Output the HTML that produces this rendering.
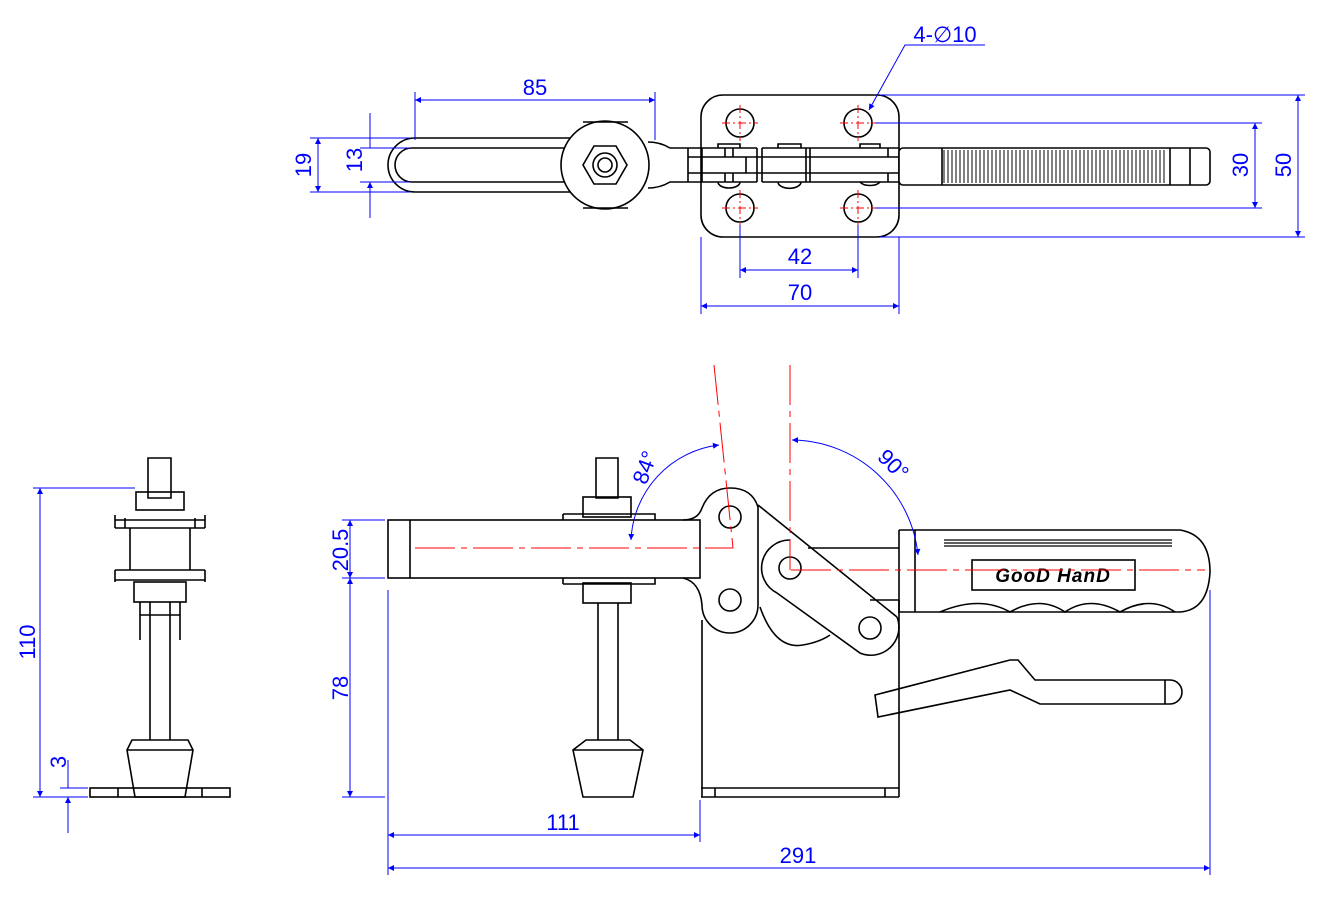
<!DOCTYPE html>
<html><head><meta charset="utf-8"><style>body{margin:0;background:#fff}svg{display:block}</style></head><body>
<svg width="1324" height="900" viewBox="0 0 1324 900" xmlns="http://www.w3.org/2000/svg">
<defs>
<marker id="a" viewBox="0 0 10 10" refX="10" refY="5" markerWidth="10" markerHeight="6" orient="auto-start-reverse" markerUnits="userSpaceOnUse"><path d="M0,0L10,5L0,10z" fill="#00f"/></marker>
</defs>
<g fill="none" stroke="#000" stroke-width="1.6">
<!-- TOP VIEW -->
<path d="M415,138 H600 M415,192 H600 M415,138 A27,27 0 0 0 415,192"/>
<path d="M412,148 H585 M412,182 H585 M412,148 A17,17 0 0 0 412,182"/>
<circle cx="605" cy="165" r="44" fill="#fff"/>
<path d="M583,122 H628 M583,208 H628"/>
<polygon points="627,165 616,184 594,184 583,165 594,146 616,146" fill="#fff"/>
<circle cx="605" cy="165" r="12"/><circle cx="605" cy="165" r="7"/>
<path d="M648,142 Q660,142 670,148 L688,148 M648,188 Q660,188 670,182 L688,182"/>
<rect x="701" y="95" width="198" height="142" rx="22" fill="#fff"/>
<path d="M718,148 v-4 h22 v4 M778,148 v-4 h23 v4 M860,148 v-4 h20 v4"/>
<path d="M718,182 A11,6 0 0 0 740,182 M778,182 A11,6 0 0 0 801,182 M860,182 A11,6 0 0 0 880,182"/>
<path d="M688,148 H757 M762,148 H899 M688,157 H899 M688,173 H899 M688,182 H757 M762,182 H899"/>
<path d="M688,148 V182 M702,148 V182 M725,148 V157 M725,173 V182 M733,148 V157 M733,173 V182 M757,148 V182 M762,148 V182 M806,148 V182 M810,148 V182 M888,148 V157 M888,173 V182 M746,157 V173"/>
<circle cx="740" cy="123" r="14"/><circle cx="858" cy="123" r="14"/>
<circle cx="740" cy="208" r="14"/><circle cx="858" cy="208" r="14"/>
<rect x="899" y="148" width="311" height="37" rx="4" fill="#fff"/>
<path d="M942,148 V185 M1170,148 V185 M1190,148 V185"/>
</g>
<g stroke="#000" stroke-width="1">
<path d="M944,150 v33 M948,150 v33 M952,150 v33 M956,150 v33 M960,150 v33 M964,150 v33 M968,150 v33 M972,150 v33 M976,150 v33 M980,150 v33 M984,150 v33 M988,150 v33 M992,150 v33 M996,150 v33 M1000,150 v33 M1004,150 v33 M1008,150 v33 M1012,150 v33 M1016,150 v33 M1020,150 v33 M1024,150 v33 M1028,150 v33 M1032,150 v33 M1036,150 v33 M1040,150 v33 M1044,150 v33 M1048,150 v33 M1052,150 v33 M1056,150 v33 M1060,150 v33 M1064,150 v33 M1068,150 v33 M1072,150 v33 M1076,150 v33 M1080,150 v33 M1084,150 v33 M1088,150 v33 M1092,150 v33 M1096,150 v33 M1100,150 v33 M1104,150 v33 M1108,150 v33 M1112,150 v33 M1116,150 v33 M1120,150 v33 M1124,150 v33 M1128,150 v33 M1132,150 v33 M1136,150 v33 M1140,150 v33 M1144,150 v33 M1148,150 v33 M1152,150 v33 M1156,150 v33 M1160,150 v33 M1164,150 v33"/>
<path d="M944,540 h228 M944,543 h228 M944,546 h228" stroke-width="1.2"/>
</g>
<g stroke="#f00" stroke-width="1" stroke-dasharray="8,3,2,3">
<path d="M722,123 h36 M740,105 v36 M840,123 h36 M858,105 v36 M722,208 h36 M740,190 v36 M840,208 h36 M858,190 v36"/>
</g>
<!-- SIDE VIEW -->
<g fill="none" stroke="#000" stroke-width="1.6">
<path d="M702,797 V620 M899,600 V797 M701,788 H899 M701,797 H899 M715,788 V797 M885,788 V797"/>
<rect x="388" y="520" width="312" height="58" fill="#fff"/>
<path d="M410,520 V578 M563,514 H655 V520 M563,514 V520 M563,584 H655 V578 M563,584 V578"/>
<!-- ear -->
<path d="M683,520 Q698,520 702,508 Q710,488 730,488 Q752,488 758,507 V605 A28,28 0 0 1 702,605 Q700,582 683,578"/>
<circle cx="730" cy="517" r="11"/><circle cx="730" cy="600" r="11"/>
<!-- link -->
<path d="M758,505 L897,617"/>
<path d="M897,617 A28,28 0 0 1 860,653 L777,593 A28,28 0 0 1 790,540"/>
<path d="M760,607 Q775,650 803,645 Q820,642 830,635"/>
<path d="M808,548 H899 M870,600 H899"/>
<circle cx="790" cy="568" r="11"/><circle cx="870" cy="628" r="11"/>
<path d="M899,530 H1180 Q1210,535 1210,572 Q1208,610 1180,612 H899 V530 M915,530 V612"/>
<path d="M940,612 Q980,595 1010,612 Q1040,595 1065,612 Q1090,595 1120,612 Q1150,595 1175,612"/>
<rect x="972" y="560" width="163" height="30" fill="#fff"/>
<path d="M875,695 L1010,660 H1018 L1035,680 H1170 A12,12 0 0 1 1170,704 H1040 L1010,690 L878,717 Z"/>
<path d="M1165,680 V704"/>
<!-- spindle side -->
<path d="M596,458 h22 v40 h-22 z"/>
<rect x="583" y="497" width="48" height="20"/>
<rect x="583" y="583" width="48" height="20"/>
<path d="M598,603 V740 M618,603 V740"/>
<path d="M586,740 H630 L643,750 L633,797 H583 L573,750 Z M573,750 H643"/>
<!-- FRONT VIEW -->
<path d="M148,458 h23 v40 h-23 z"/>
<rect x="136" y="492" width="48" height="18"/>
<path d="M115,520 H205 M115,528 H205 M115,515 V528 M205,515 V528 M125,518 V528 M195,518 V528"/>
<path d="M130,528 V570 M190,528 V570"/>
<path d="M115,570 H205 M115,580 H205 M115,570 V582 M205,570 V582"/>
<rect x="134" y="582" width="52" height="20"/>
<path d="M140,602 V640 M180,602 V640 M140,615 h40"/>
<path d="M150,602 V740 M170,602 V740"/>
<path d="M132,740 H188 L193,750 L185,797 H135 L127,750 Z M127,750 H193"/>
<rect x="90" y="788" width="140" height="9"/>
<path d="M118,788 V797 M202,788 V797"/>
</g>
<text x="1053" y="582" font-family="Liberation Sans, sans-serif" font-size="19" font-weight="bold" font-style="italic" text-anchor="middle" letter-spacing="1">GooD HanD</text>
<g stroke="#f00" stroke-width="1" fill="none" stroke-dasharray="40,6,6,6">
<path d="M415,548 H733 M791,570 H1205 M790,365 V570 M714,365 L733,548"/>
</g>
<!-- DIMENSIONS -->
<g stroke="#00f" stroke-width="1" fill="none">
<path d="M415,92 V140 M655,92 V140"/>
<path d="M415,100 H655" marker-start="url(#a)" marker-end="url(#a)"/>
<path d="M310,138 H410 M310,192 H410 M360,148 H410 M360,182 H410"/>
<path d="M318,138 V192" marker-start="url(#a)" marker-end="url(#a)"/>
<path d="M370,113 V148 M370,182 V218" />
<path d="M370,130 V148 M370,200 V182" marker-end="url(#a)"/>
<path d="M880,95 H1305 M880,237 H1305 M875,123 H1262 M875,208 H1262"/>
<path d="M1255,123 V208" marker-start="url(#a)" marker-end="url(#a)"/>
<path d="M1298,95 V237" marker-start="url(#a)" marker-end="url(#a)"/>
<path d="M740,225 V278 M858,225 V278 M701,237 V314 M899,237 V314"/>
<path d="M740,270 H858" marker-start="url(#a)" marker-end="url(#a)"/>
<path d="M701,306 H899" marker-start="url(#a)" marker-end="url(#a)"/>
<path d="M985,45 H905 L869,110" marker-end="url(#a)"/>
<path d="M342,520 H385 M342,578 H385 M342,797 H385"/>
<path d="M350,520 V578" marker-start="url(#a)" marker-end="url(#a)"/>
<path d="M350,578 V797" marker-start="url(#a)" marker-end="url(#a)"/>
<path d="M388,590 V875 M700,800 V842 M1210,590 V875"/>
<path d="M388,835 H700" marker-start="url(#a)" marker-end="url(#a)"/>
<path d="M388,868 H1210" marker-start="url(#a)" marker-end="url(#a)"/>
<path d="M33,488 H135 M33,797 H88 M60,788 H88"/>
<path d="M40,488 V797" marker-start="url(#a)" marker-end="url(#a)"/>
<path d="M68,760 V788 M68,833 V797" marker-end="url(#a)"/>
<path d="M719,445 A100,100 0 0 0 631,540" marker-start="url(#a)" marker-end="url(#a)"/>
<path d="M792,440 A128,128 0 0 1 918,555" marker-start="url(#a)" marker-end="url(#a)"/>
</g>
<g fill="#00f" font-family="Liberation Sans, DejaVu Sans, sans-serif" font-size="22" text-anchor="middle">
<text x="535" y="95">85</text>
<text x="945" y="42">4-∅10</text>
<text x="800" y="264">42</text>
<text x="800" y="300">70</text>
<text x="563" y="830">111</text>
<text x="798" y="863">291</text>
<text transform="translate(311,165) rotate(-90)">19</text>
<text transform="translate(362,160) rotate(-90)">13</text>
<text transform="translate(1248,165) rotate(-90)">30</text>
<text transform="translate(1291,165) rotate(-90)">50</text>
<text transform="translate(348,550) rotate(-90)">20.5</text>
<text transform="translate(348,688) rotate(-90)">78</text>
<text transform="translate(35,642) rotate(-90)">110</text>
<text transform="translate(66,762) rotate(-90)">3</text>
<text transform="translate(652,470) rotate(-70)">84°</text>
<text transform="translate(888,470) rotate(45)">90°</text>
</g>
</svg>
</body></html>
